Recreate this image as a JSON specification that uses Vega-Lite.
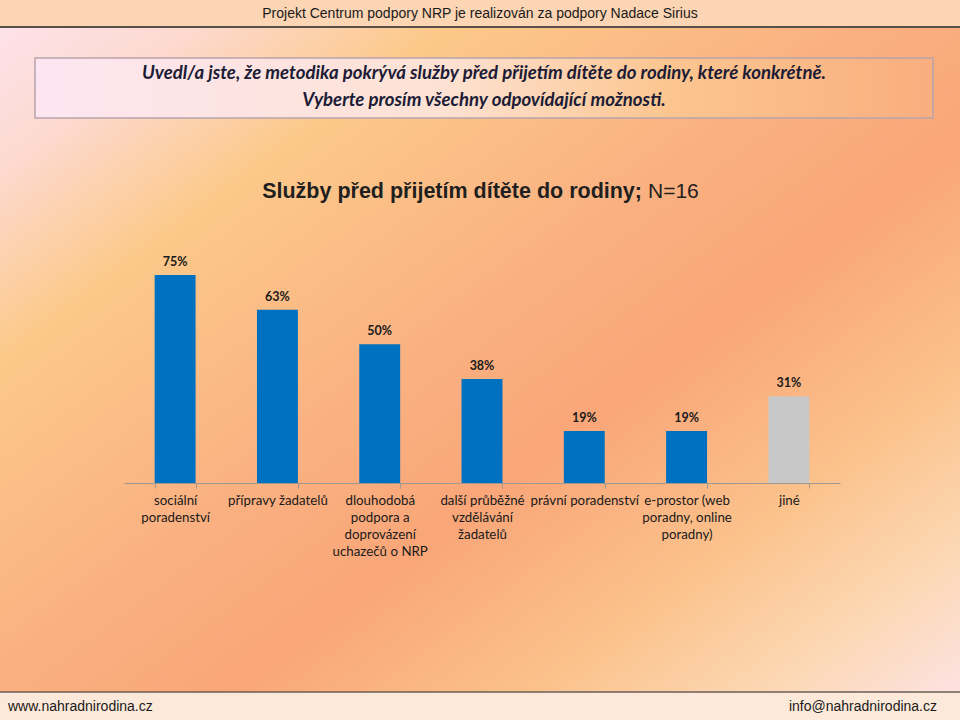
{
  "$schema": "https://vega.github.io/schema/vega-lite/v6.json",
  "width": 960,
  "height": 720,
  "autosize": {"type": "none"},
  "padding": 0,
  "background": "#fbc08a",
  "config": {"view": {"stroke": null}},
  "layer": [
    {
      "data": {"values": [{}]},
      "mark": {
        "type": "rect",
        "fill": {
          "gradient": "linear", "x1": 0, "y1": 0, "x2": 1, "y2": 1,
          "stops": [
            {"offset": 0, "color": "#fde4ef"},
            {"offset": 0.12, "color": "#fdd9cf"},
            {"offset": 0.25, "color": "#fcc98a"},
            {"offset": 0.45, "color": "#fab282"},
            {"offset": 0.6, "color": "#f9a678"},
            {"offset": 0.76, "color": "#fbc28c"},
            {"offset": 0.88, "color": "#fcd8b4"},
            {"offset": 1, "color": "#fde4ea"}
          ]
        }
      },
      "encoding": {}
    },
    {
      "data": {"values": [{}]},
      "mark": {"type": "rect", "fill": "#fcd5b4"},
      "encoding": {"y": {"value": 0}, "y2": {"value": 27}}
    },
    {
      "data": {"values": [{}]},
      "mark": {"type": "rule", "stroke": "#5a5048", "strokeWidth": 2},
      "encoding": {"x": {"value": 0}, "x2": {"value": 960}, "y": {"value": 27}}
    },
    {
      "data": {"values": [{}]},
      "mark": {"type": "text", "font": "Liberation Sans", "fontSize": 14, "color": "#1a1a1a", "align": "center", "baseline": "middle"},
      "encoding": {"x": {"value": 480}, "y": {"value": 14}, "text": {"value": "Projekt Centrum podpory NRP je realizován za podpory Nadace Sirius"}}
    },
    {
      "data": {"values": [{}]},
      "mark": {
        "type": "rect", "stroke": "#b8a4ac", "strokeWidth": 1.5,
        "fill": {
          "gradient": "linear", "x1": 0, "y1": 0, "x2": 1, "y2": 0,
          "stops": [
            {"offset": 0, "color": "#fde6f1"},
            {"offset": 0.45, "color": "#fde2d4"},
            {"offset": 0.7, "color": "#fcc690"},
            {"offset": 1, "color": "#f9ae7e"}
          ]
        }
      },
      "encoding": {"x": {"value": 35}, "x2": {"value": 933}, "y": {"value": 58}, "y2": {"value": 118}}
    },
    {
      "data": {"values": [{}]},
      "mark": {"type": "text", "font": "Lato", "fontSize": 18.6, "fontWeight": "bold", "fontStyle": "italic", "color": "#1c1c36", "align": "center", "baseline": "middle", "lineBreak": "\n", "lineHeight": 27},
      "encoding": {"x": {"value": 484}, "y": {"value": 73}, "text": {"value": "Uvedl/a jste, že metodika pokrývá služby před přijetím dítěte do rodiny, které konkrétně.\nVyberte prosím všechny odpovídající možnosti."}}
    },
    {
      "data": {"values": [{}]},
      "mark": {"type": "text", "font": "Liberation Sans", "fontSize": 21.5, "fontWeight": "bold", "color": "#1f1f1f", "align": "right", "baseline": "alphabetic"},
      "encoding": {"x": {"value": 642}, "y": {"value": 198}, "text": {"value": "Služby před přijetím dítěte do rodiny;"}}
    },
    {
      "data": {"values": [{}]},
      "mark": {"type": "text", "font": "Liberation Sans", "fontSize": 21, "color": "#1f1f1f", "align": "left", "baseline": "alphabetic"},
      "encoding": {"x": {"value": 648}, "y": {"value": 198}, "text": {"value": "N=16"}}
    },
    {
      "data": {"values": [{}]},
      "mark": {"type": "rect", "fill": "#fde9d9"},
      "encoding": {"y": {"value": 692}, "y2": {"value": 720}}
    },
    {
      "data": {"values": [{}]},
      "mark": {"type": "rule", "stroke": "#6a5e56", "strokeWidth": 1.5},
      "encoding": {"x": {"value": 0}, "x2": {"value": 960}, "y": {"value": 692}}
    },
    {
      "data": {"values": [{}]},
      "mark": {"type": "text", "font": "Liberation Sans", "fontSize": 14, "color": "#1a1a1a", "align": "left", "baseline": "middle"},
      "encoding": {"x": {"value": 8}, "y": {"value": 707}, "text": {"value": "www.nahradnirodina.cz"}}
    },
    {
      "data": {"values": [{}]},
      "mark": {"type": "text", "font": "Liberation Sans", "fontSize": 14, "color": "#1a1a1a", "align": "right", "baseline": "middle"},
      "encoding": {"x": {"value": 937}, "y": {"value": 707}, "text": {"value": "info@nahradnirodina.cz"}}
    },
    {
      "data": {"name": "sluzby", "values": [
        {"kategorie": "sociální\nporadenství", "podil": 0.75},
        {"kategorie": "přípravy žadatelů", "podil": 0.625},
        {"kategorie": "dlouhodobá\npodpora a\ndoprovázení\nuchazečů o NRP", "podil": 0.5},
        {"kategorie": "další průběžné\nvzdělávání\nžadatelů", "podil": 0.375},
        {"kategorie": "právní poradenství", "podil": 0.1875},
        {"kategorie": "e-prostor (web\nporadny, online\nporadny)", "podil": 0.1875},
        {"kategorie": "jiné", "podil": 0.3125}
      ]},
      "encoding": {
        "x": {
          "field": "kategorie", "type": "nominal", "sort": null,
          "scale": {"range": [124, 840], "paddingInner": 0.6, "paddingOuter": 0.3},
          "axis": {
            "title": null, "orient": "bottom", "offset": -237, "zindex": 1,
            "labelAngle": 0, "labelExpr": "split(datum.label, '\\n')",
            "labelFont": "Lato", "labelFontSize": 13.3, "labelColor": "#1a1a1a",
            "labelLineHeight": 17, "labelPadding": 5, "labelLimit": 200,
            "domainColor": "#a09890", "tickColor": "#a09890", "tickSize": 5,
            "tickBand": "extent", "grid": false
          }
        },
        "y": {
          "field": "podil", "type": "quantitative",
          "scale": {"domain": [0, 0.75], "range": [483, 275], "nice": false, "zero": true},
          "axis": null
        }
      },
      "layer": [
        {
          "mark": {"type": "bar"},
          "encoding": {
            "color": {
              "condition": {"test": "datum.kategorie == 'jiné'", "value": "#c8c8c8"},
              "value": "#0070c0"
            }
          }
        },
        {
          "mark": {"type": "text", "font": "Lato", "fontSize": 12.5, "fontWeight": "bold", "color": "#1a1a1a", "baseline": "alphabetic", "dy": -9},
          "encoding": {"text": {"field": "podil", "type": "quantitative", "format": ".0%"}}
        }
      ]
    }
  ]
}
